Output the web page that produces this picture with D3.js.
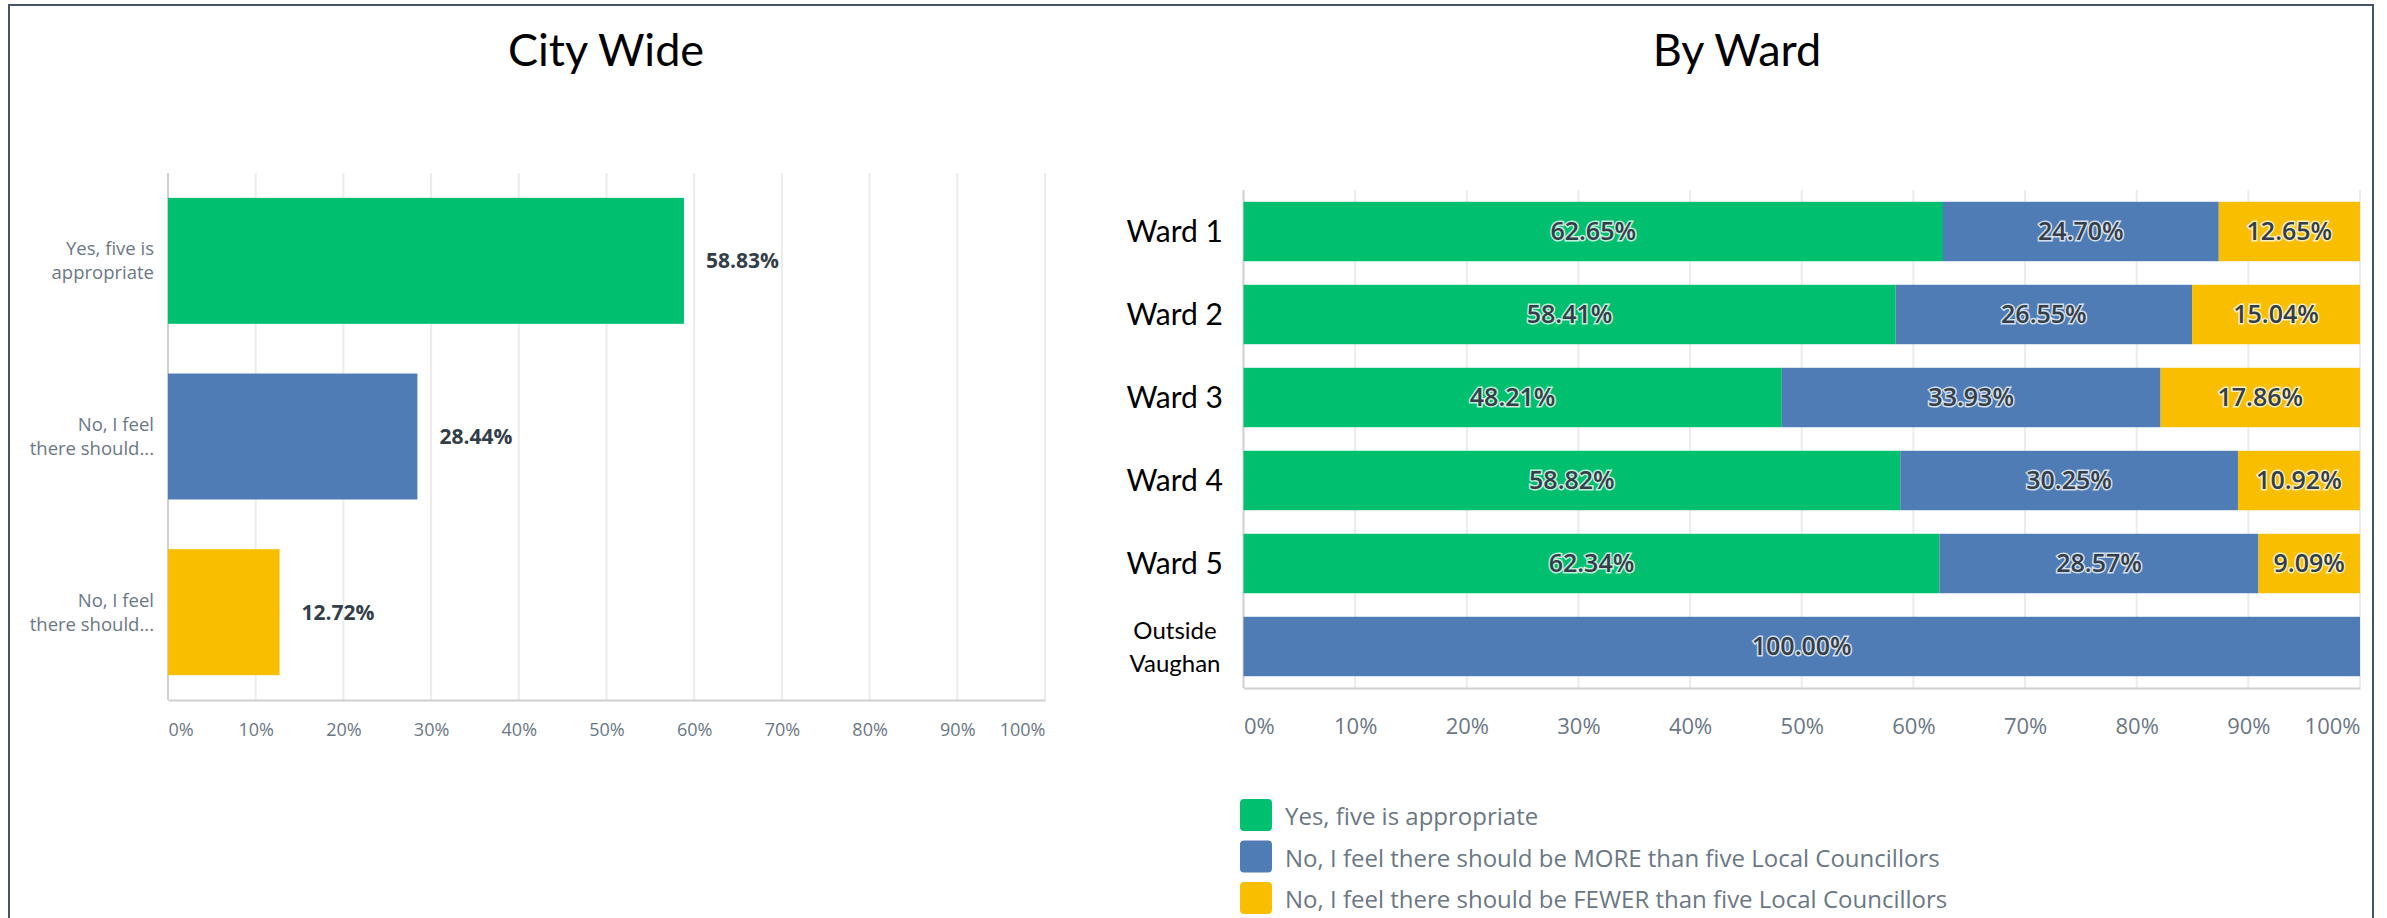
<!DOCTYPE html>
<html>
<head>
<meta charset="utf-8">
<script src="https://cdn.jsdelivr.net/npm/d3@7"></script>
<style>
  body { margin: 0; background: #fff; }
  svg { display: block; }
  .survey { font-family: "Open Sans", sans-serif; }
  .office { font-family: Lato, Calibri, sans-serif; font-weight: 400; }
</style>
</head>
<body>
<svg id="chart"></svg>
<script>
var W = 2387, H = 918;

// city wide answers
var cityLabels = [["Yes, five is", "appropriate"], ["No, I feel", "there should..."], ["No, I feel", "there should..."]];
var cityValues = [58.83, 28.44, 12.72];

// by ward answers (percent)
var wards = ["Ward 1", "Ward 2", "Ward 3", "Ward 4", "Ward 5", "Outside Vaughan"];
var yesVals = [62.65, 58.41, 48.21, 58.82, 62.34, 0];
var moreVals = [24.70, 26.55, 33.93, 30.25, 28.57, 100.00];
var fewerVals = [12.65, 15.04, 17.86, 10.92, 9.09, 0];

var seriesNames = ["Yes, five is appropriate",
  "No, I feel there should be MORE than five Local Councillors",
  "No, I feel there should be FEWER than five Local Councillors"];
var colors = ["#00bf6f", "#507cb6", "#f9be00"];
var ticks = [0, 10, 20, 30, 40, 50, 60, 70, 80, 90, 100];

var svg = d3.select("#chart").attr("width", W).attr("height", H);

// frame
svg.append("rect")
  .attr("x", 9).attr("y", 5)
  .attr("width", 2364).attr("height", 940)
  .attr("fill", "none")
  .attr("stroke", "#44546a")
  .attr("stroke-width", 2);

svg.append("text").attr("class", "office")
  .attr("x", 606).attr("y", 66)
  .attr("text-anchor", "middle")
  .attr("font-size", 45)
  .text("City Wide");

svg.append("text").attr("class", "office")
  .attr("x", 1737).attr("y", 66)
  .attr("text-anchor", "middle")
  .attr("font-size", 45)
  .text("By Ward");

function drawGrid(g, x, y0, y1, tickFont, tickY) {
  g.selectAll(".grid").data(ticks.slice(1)).enter().append("line")
    .attr("x1", d => x(d)).attr("x2", d => x(d))
    .attr("y1", y0).attr("y2", y1)
    .attr("stroke", "#ececec").attr("stroke-width", 2);

  g.append("line")
    .attr("x1", x(0)).attr("x2", x(0))
    .attr("y1", y0).attr("y2", y1)
    .attr("stroke", "#d0d0d0").attr("stroke-width", 2);

  var axis = d3.axisBottom(x).tickValues(ticks).tickSize(0).tickFormat(d => d + "%");
  var ax = g.append("g")
    .attr("class", "survey")
    .attr("transform", "translate(0," + y1 + ")")
    .call(axis);
  ax.select(".domain").attr("stroke", "#d0d0d0").attr("stroke-width", 2);
  ax.selectAll("text")
    .attr("y", tickY)
    .attr("dy", "0.35em")
    .attr("font-size", tickFont)
    .attr("font-family", "Open Sans, sans-serif")
    .attr("fill", "#6b7785")
    .attr("text-anchor", d => d == 0 ? "start" : (d == 100 ? "end" : "middle"));
}

// ---------- City wide ----------
var x1 = d3.scaleLinear().domain([0, 100]).range([168, 1045]);
var y1 = d3.scaleBand().domain(d3.range(cityValues.length)).range([173, 700])
  .paddingInner(0.283).paddingOuter(0.1415);

var left = svg.append("g");
drawGrid(left, x1, 173, 700, 18, 30);

left.selectAll(".bar").data(cityValues).enter().append("rect")
  .attr("x", x1(0))
  .attr("y", (d, i) => y1(i))
  .attr("width", d => x1(d) - x1(0))
  .attr("height", y1.bandwidth())
  .attr("fill", (d, i) => colors[i]);

left.selectAll(".val").data(cityValues).enter().append("text")
  .attr("class", "survey")
  .attr("x", d => x1(d) + 22)
  .attr("y", (d, i) => y1(i) + y1.bandwidth() / 2)
  .attr("dy", "0.35em")
  .attr("font-size", 21)
  .attr("font-weight", 700)
  .attr("fill", "#333e48")
  .text(d => d.toFixed(2) + "%");

left.selectAll(".cat").data(cityLabels).enter().append("text")
  .attr("class", "survey")
  .attr("x", 154)
  .attr("y", (d, i) => y1(i) + y1.bandwidth() / 2)
  .attr("text-anchor", "end")
  .attr("font-size", 18.5)
  .attr("fill", "#6b7785")
  .selectAll("tspan").data(d => d).enter().append("tspan")
  .attr("x", 154)
  .attr("dy", (d, i) => i == 0 ? "-0.3em" : "1.3em")
  .text(d => d);

// ---------- By ward ----------
var x2 = d3.scaleLinear().domain([0, 100]).range([1243.5, 2360]);
var y2 = d3.scaleBand().domain(wards).range([190, 688])
  .paddingInner(0.284).paddingOuter(0.142);

var right = svg.append("g");
drawGrid(right, x2, 190, 688, 22, 38);

var rows = wards.map((w, i) => ({ ward: w, yes: yesVals[i], more: moreVals[i], fewer: fewerVals[i] }));
var stack = d3.stack().keys(["yes", "more", "fewer"])(rows);

var layer = right.selectAll(".layer").data(stack).enter().append("g")
  .attr("fill", (d, i) => colors[i]);

layer.selectAll("rect").data(d => d).enter().append("rect")
  .attr("x", d => x2(d[0]))
  .attr("y", d => y2(d.data.ward))
  .attr("width", d => x2(d[1]) - x2(d[0]))
  .attr("height", y2.bandwidth());

layer.selectAll("text").data(d => d.filter(s => s[1] - s[0] > 0)).enter().append("text")
  .attr("class", "survey")
  .attr("x", d => (x2(d[0]) + x2(d[1])) / 2)
  .attr("y", d => y2(d.data.ward) + y2.bandwidth() / 2)
  .attr("dy", "0.35em")
  .attr("text-anchor", "middle")
  .attr("font-size", 25)
  .attr("font-weight", 600)
  .attr("fill", "#333e48")
  .attr("stroke", "#ffffff")
  .attr("stroke-width", 3)
  .attr("stroke-opacity", 0.75)
  .attr("paint-order", "stroke")
  .text(d => (d[1] - d[0]).toFixed(2) + "%");

right.selectAll(".ward").data(wards).enter().append("text")
  .attr("class", "office")
  .attr("fill", "#000")
  .each(function (d) {
    var t = d3.select(this);
    var cy = y2(d) + y2.bandwidth() / 2;
    var parts = d.split(" ");
    if (d.indexOf("Ward") == 0) {
      t.attr("x", 1223).attr("y", cy).attr("dy", "0.35em")
        .attr("text-anchor", "end").attr("font-size", 30).text(d);
    } else {
      t.attr("x", 1175).attr("y", cy).attr("text-anchor", "middle").attr("font-size", 24);
      t.append("tspan").attr("x", 1175).attr("dy", "-0.3em").text(parts[0]);
      t.append("tspan").attr("x", 1175).attr("dy", "1.35em").text(parts[1]);
    }
  });

// legend
var legend = svg.append("g").attr("class", "survey");
var lg = legend.selectAll("g").data(seriesNames).enter().append("g")
  .attr("transform", (d, i) => "translate(1240," + (799 + i * 41.5) + ")");
lg.append("rect")
  .attr("width", 32).attr("height", 32)
  .attr("rx", 4)
  .attr("fill", (d, i) => colors[i]);
lg.append("text")
  .attr("x", 45).attr("y", 18)
  .attr("dy", "0.35em")
  .attr("font-size", 24)
  .attr("fill", "#6b7785")
  .text(d => d);
</script>
</body>
</html>
